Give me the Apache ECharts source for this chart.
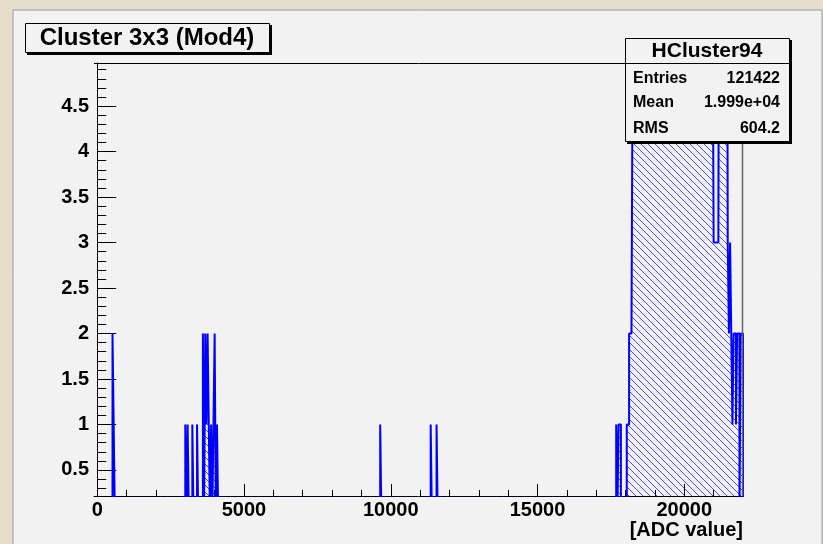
<!DOCTYPE html>
<html><head><meta charset="utf-8">
<script src="https://cdn.jsdelivr.net/npm/echarts@6/dist/echarts.min.js"></script>
<style>html,body{margin:0;padding:0;background:#e6ddcd;} #c{width:823px;height:544px;}</style>
</head><body><div id="c"></div>
<script>
// ---- data ----
const binWidth = 40;
// isolated bins (lower edge, ADC) and their counts
const binStarts = [520, 560, 3000, 3080, 3240, 3400, 3600, 3680, 3720, 3760, 3800, 3880, 3960, 4000, 4080, 9640, 11360, 11560, 17680, 17760, 17800];
const binCounts = [2, 1, 1, 1, 1, 1, 2, 2, 1, 2, 1, 1, 1, 2, 1, 1, 1, 1, 1, 1, 1];
// contiguous run of bins starting at peakStart (counts above the frame are estimates)
const peakStart = 18040;
const peakCounts = [1, 1, 2, 2, 2, 5,
  40, 70, 110, 160, 230, 310, 400, 500, 620, 750, 900, 1050, 1210, 1380, 1540, 1710, 1880, 2040, 2190, 2330,
  2460, 2580, 2690, 2790, 2870, 2940, 3000, 3050, 3090, 3120, 3140, 3150, 3150, 3140, 3120, 3090, 3050, 3000,
  2940, 2870, 2790, 2700, 2600, 2490, 2370, 2240, 2100, 1950, 1800, 1640, 1480, 1320, 1160, 1000, 850, 710,
  580, 460, 360, 270, 200, 140, 95, 60, 38, 22, 12, 6,
  3, 3, 3, 3, 3, 9, 6, 11, 5, 8, 7, 10, 3, 2, 3, 2, 1, 2, 2, 1, 2, 2, 0, 2, 2];
const xLabelValues = [0, 5000, 10000, 15000, 20000];
const yLabelValues = [0.5, 1, 1.5, 2, 2.5, 3, 3.5, 4, 4.5];
const titleText = 'Cluster 3x3 (Mod4)';
const statsName = 'HCluster94';
const statsRows = [['Entries', '121422'], ['Mean', '1.999e+04'], ['RMS', '604.2']];
const xTitle = '[ADC value]';

// ---- build the step outline ----
const bins = [];
binStarts.forEach((s, i) => bins.push([s, binCounts[i]]));
peakCounts.forEach((c, i) => bins.push([peakStart + i * binWidth, c]));
bins.sort((a, b) => a[0] - b[0]);
const pts = [];
let prevHi = null;
bins.forEach(([lo, c]) => {
  if (prevHi === null || lo !== prevHi) {
    if (prevHi !== null) pts.push([prevHi, 0]);
    pts.push([lo, 0]);
  }
  pts.push([lo, c]);
  pts.push([lo + binWidth, c]);
  prevHi = lo + binWidth;
});
pts.push([prevHi, 0]);

// hatch pattern (ROOT style \\\\)
const p = 7;
const cv = document.createElement('canvas');
cv.width = p; cv.height = p;
const cx = cv.getContext('2d');
cx.strokeStyle = 'rgba(0,0,255,0.7)';
cx.lineWidth = 1;
for (let k = -1; k <= 1; k++) { cx.beginPath(); cx.moveTo(k * p, 0); cx.lineTo(k * p + p, p); cx.stroke(); }

const majX = xLabelValues;
const minX = []; for (let v = 0; v <= 21000; v += 1000) minX.push(v);
const minY = []; for (let k = 3; k <= 49; k++) minY.push(k / 10);

const XMIN = -110, XMAX = 22000, YMIN = 0.214, YMAX = 4.974;
const font = 'Liberation Sans, Arial, Helvetica, sans-serif';

const chart = echarts.init(document.getElementById('c'), null, { renderer: 'canvas' });
chart.setOption({
  animation: false,
  backgroundColor: '#e6ddcd',
  grid: { left: 94, right: 80, top: 63, bottom: 48, show: false },
  xAxis: [
    { type: 'value', min: XMIN, max: XMAX, splitLine: { show: false },
      axisLine: { show: true, lineStyle: { color: '#000', width: 1 } },
      axisTick: { show: true, inside: true, length: 6, customValues: minX, lineStyle: { color: '#000' } },
      axisLabel: { customValues: xLabelValues, formatter: v => String(v), margin: 4, color: '#000', fontSize: 20, fontWeight: 'bold', fontFamily: font } },
    { type: 'value', min: XMIN, max: XMAX, position: 'bottom', splitLine: { show: false },
      axisLine: { show: false }, axisLabel: { show: false },
      axisTick: { show: true, inside: true, length: 12, customValues: majX, lineStyle: { color: '#000' } } }
  ],
  yAxis: [
    { type: 'value', min: YMIN, max: YMAX, splitLine: { show: false },
      axisLine: { show: true, lineStyle: { color: '#000', width: 1 } },
      axisTick: { show: true, inside: true, length: 9, customValues: minY, lineStyle: { color: '#000' } },
      axisLabel: { customValues: yLabelValues, formatter: v => String(v), margin: 5, color: '#000', fontSize: 20, fontWeight: 'bold', fontFamily: font } },
    { type: 'value', min: YMIN, max: YMAX, position: 'left', splitLine: { show: false },
      axisLine: { show: false }, axisLabel: { show: false },
      axisTick: { show: true, inside: true, length: 19, customValues: yLabelValues, lineStyle: { color: '#000' } } }
  ],
  series: [{
    type: 'line', data: pts, xAxisIndex: 0, yAxisIndex: 0, symbol: 'none', clip: true,
    lineStyle: { color: '#0000ff', width: 2 },
    areaStyle: { color: { image: cv, repeat: 'repeat' }, origin: 'start', opacity: 1 },
    z: 3
  }],
  graphic: [
    { type: 'rect', z: -5, shape: { x: 13, y: 10, width: 809, height: 540 }, style: { fill: '#f2f2f2', stroke: '#9a9a9a', lineWidth: 1 } },
    // frame top and right
    { type: 'line', z: 4, shape: { x1: 94, y1: 63.5, x2: 743, y2: 63.5 }, style: { stroke: '#000', lineWidth: 1 } },
    { type: 'line', z: 4, shape: { x1: 742.5, y1: 63, x2: 742.5, y2: 496 }, style: { stroke: '#666', lineWidth: 1.5 } },
    // title box
    { type: 'rect', z: 50, shape: { x: 27, y: 25, width: 245, height: 30 }, style: { fill: '#000' } },
    { type: 'rect', z: 51, shape: { x: 25.5, y: 23.5, width: 244, height: 29 }, style: { fill: '#f2f2f2', stroke: '#000', lineWidth: 1 } },
    { type: 'text', z: 52, x: 147, y: 38.5, style: { text: titleText, font: 'bold 24px ' + font, fill: '#000', align: 'center', verticalAlign: 'middle' } },
    // stats box
    { type: 'rect', z: 50, shape: { x: 627, y: 40, width: 165, height: 104 }, style: { fill: '#000' } },
    { type: 'rect', z: 51, shape: { x: 625.5, y: 38.5, width: 164, height: 103 }, style: { fill: '#f2f2f2', stroke: '#000', lineWidth: 1 } },
    { type: 'line', z: 52, shape: { x1: 625.5, y1: 63.5, x2: 789.5, y2: 63.5 }, style: { stroke: '#000', lineWidth: 1 } },
    { type: 'text', z: 52, x: 707, y: 51.5, style: { text: statsName, font: 'bold 21px ' + font, fill: '#000', align: 'center', verticalAlign: 'middle' } },
    ...statsRows.flatMap((r, i) => {
      const yy = [78.5, 103, 128.5][i];
      return [
        { type: 'text', z: 52, x: 633, y: yy, style: { text: r[0], font: 'bold 16px ' + font, fill: '#000', align: 'left', verticalAlign: 'middle' } },
        { type: 'text', z: 52, x: 780, y: yy, style: { text: r[1], font: 'bold 16px ' + font, fill: '#000', align: 'right', verticalAlign: 'middle' } }
      ];
    }),
    { type: 'text', z: 52, x: 743, y: 530, style: { text: xTitle, font: 'bold 20px ' + font, fill: '#000', align: 'right', verticalAlign: 'middle' } }
  ]
});
</script></body></html>
